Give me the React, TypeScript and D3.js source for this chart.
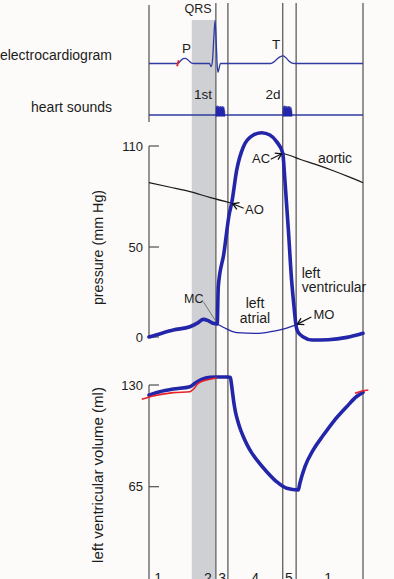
import React from 'react';
import * as d3 from 'd3';

const W = 394;
const H = 579;

// ---- time axis (ms over one cardiac cycle) ----
const phaseBoundaries = [0, 250, 295, 500, 550, 800];
const qrsBand = [160, 247];
const phaseLabels = ['1', '2', '3', '4', '5', '1'];
const phaseLabelTimes = [34, 220, 273, 397, 523, 670];

// ---- electrocardiogram (mV, arbitrary) ----
const ecgTimes = [0, 106, 112, 120, 128, 136, 144, 152, 160, 168, 226, 232, 237, 242, 247, 251, 255, 258, 262, 267, 455, 467, 480, 491, 501, 511, 522, 535, 545, 800];
const ecgValues = [0, 0, 0.02, 0.08, 0.12, 0.13, 0.1, 0.05, 0.01, 0, 0, -0.08, 0.05, 0.6, 1.08, 0.6, -0.05, -0.22, -0.12, 0, 0, 0.04, 0.12, 0.17, 0.19, 0.15, 0.07, 0.01, 0, 0];
const ecgMarkTimes = [105, 111];
const ecgMarkValues = [-0.07, 0.08];

// ---- heart sounds (amplitude envelope) ----
const sound1Times = [250, 250.6, 252, 254, 256, 258, 260, 262, 264, 266, 268, 270, 272, 274, 276, 278, 280, 282, 283.4, 284];
const sound1Values = [0, 0.85, 1, 0.8, 1.05, 0.8, 1, 0.75, 0.95, 0.8, 1, 0.8, 0.95, 0.75, 1, 0.8, 0.9, 0.6, 0.45, 0];
const sound2Times = [501, 501.6, 503, 505, 507, 509, 511, 513, 515, 517, 519, 521, 523, 525, 527, 529, 531, 533, 534.4, 535];
const sound2Values = [0, 0.8, 1, 0.8, 1.05, 0.75, 1, 0.8, 1, 0.75, 0.95, 0.8, 1, 0.8, 0.95, 0.7, 0.85, 0.6, 0.4, 0];

// ---- pressures (mm Hg) ----
const pressureTicks = [0, 50, 110];
const ventTimes = [0, 45, 91, 153, 184, 203, 221, 240, 255, 259, 280, 300, 309, 328, 353, 390, 421, 452, 477, 500, 508, 521, 533, 544, 549, 556, 577, 610, 670, 740, 800];
const ventValues = [0, 2, 3.9, 5.7, 8, 9.8, 9.1, 7.6, 7.2, 28, 46.5, 69.6, 76, 95.8, 109.6, 116.5, 117.9, 116.5, 112.6, 105.7, 89.8, 60.1, 31.7, 14, 7, 3, 0, -1.7, -1.5, -0.2, 2.1];
const atrialTimes = [255, 290, 329, 404, 450, 490, 549];
const atrialValues = [7.2, 4.5, 2.4, 2, 2.8, 3.9, 6.7];
const aorticBeforeTimes = [0, 80, 153, 230, 309];
const aorticBeforeValues = [88.2, 85.5, 82.9, 79.3, 76];
const aorticAfterTimes = [500, 530, 564, 620, 689, 750, 800];
const aorticAfterValues = [105.7, 104.2, 102.1, 99.2, 95.3, 91.5, 88.2];

// ---- left ventricular volume (ml) ----
const volumeTicks = [65, 130];
const volumeTimes = [0, 41, 91, 153, 172, 197, 228, 253, 296, 304, 308, 312, 317, 323, 331, 340, 352, 365, 384, 403, 440, 477, 515, 558, 564, 583, 614, 652, 689, 739, 775, 800];
const volumeValues = [123.5, 125.7, 127.4, 128.9, 131.1, 133.6, 134.9, 135.1, 135.1, 134.8, 131, 125.5, 119, 113, 107.5, 102.5, 97.2, 92.4, 86.6, 82.1, 74.6, 68.2, 64, 62.9, 67.2, 77.8, 88.5, 98, 106.5, 116.1, 122.5, 125.3];
const redTraceATimes = [-27, 16, 91, 153, 160, 166, 184, 216, 253];
const redTraceAValues = [120.9, 123, 125.1, 125.7, 126.5, 127.3, 131.1, 133.2, 134.5];
const redTraceBTimes = [770, 800, 820];
const redTraceBValues = [124.7, 126.3, 126.8];

// ---- event points ----
const events = [
  { name: 'AO', t: 309, p: 76 },
  { name: 'AC', t: 500, p: 105.7 },
  { name: 'MC', t: 255, p: 7.2 },
  { name: 'MO', t: 549, p: 6.7 },
];

type Pt = { t: number; v: number };
const zip = (ts: number[], vs: number[]): Pt[] => ts.map((t, i) => ({ t, v: vs[i] }));

const FONT = '"Liberation Sans", Arial, Helvetica, sans-serif';
const THICK = '#2326a8';
const THIN = '#2f3b9e';
const LINE = '#505050';
const TXT = '#1c1c1c';

export default function App() {
  const x = d3.scaleLinear().domain([0, 800]).range([149, 363]);
  const yEcg = d3.scaleLinear().domain([0, 1]).range([63.5, 23.5]);
  const ySound = d3.scaleLinear().domain([0, 1]).range([115, 106]);
  const yP = d3.scaleLinear().domain([0, 50, 110]).range([337, 247, 146]);
  const yV = d3.scaleLinear().domain([65, 130]).range([486.7, 385]);

  const lineOf = (ys: d3.ScaleLinear<number, number>, curve: d3.CurveFactory = d3.curveMonotoneX) =>
    d3.line<Pt>().x(d => x(d.t)).y(d => ys(d.v)).curve(curve);

  const ecgPath = lineOf(yEcg)(zip(ecgTimes, ecgValues)) || '';
  const ecgMark = lineOf(yEcg, d3.curveLinear)(zip(ecgMarkTimes, ecgMarkValues)) || '';
  const soundArea = d3.area<Pt>().x(d => x(d.t)).y0(ySound(-0.15)).y1(d => ySound(d.v));
  const s1 = soundArea(zip(sound1Times, sound1Values)) || '';
  const s2 = soundArea(zip(sound2Times, sound2Values)) || '';

  const ventPath = lineOf(yP)(zip(ventTimes, ventValues)) || '';
  const atrialPath = lineOf(yP)(zip(atrialTimes, atrialValues)) || '';
  const aortA = lineOf(yP)(zip(aorticBeforeTimes, aorticBeforeValues)) || '';
  const aortB = lineOf(yP)(zip(aorticAfterTimes, aorticAfterValues)) || '';

  const volPath = lineOf(yV)(zip(volumeTimes, volumeValues)) || '';
  const redA = lineOf(yV)(zip(redTraceATimes, redTraceAValues)) || '';
  const redB = lineOf(yV)(zip(redTraceBTimes, redTraceBValues)) || '';

  const ev = (n: string) => {
    const e = events.find(d => d.name === n)!;
    return [x(e.t), yP(e.p)];
  };
  const [aoX, aoY] = ev('AO');
  const [acX, acY] = ev('AC');
  const [mcX, mcY] = ev('MC');
  const [moX, moY] = ev('MO');

  const x0 = x(0);

  return (
    <svg width={W} height={H} style={{ position: 'absolute', left: 0, top: 0, background: '#fcfbf9' }} fontFamily={FONT}>
      <defs>
        <marker id="arr" viewBox="-8 -5 10 10" refX={0} refY={0} markerWidth={10} markerHeight={10} orient="auto" markerUnits="userSpaceOnUse">
          <path d="M-6,-3.6L0,0L-6,3.6" fill="none" stroke="#111" strokeWidth={1.3} />
        </marker>
      </defs>
      <rect x={0} y={0} width={W} height={H} fill="#fcfbf9" />
      {/* QRS shaded band */}
      <rect x={x(qrsBand[0])} y={20} width={x(qrsBand[1]) - x(qrsBand[0])} height={H - 20} fill="#cfd0d4" />

      {/* phase boundary lines */}
      {phaseBoundaries.slice(1).map((t, i) => (
        <line key={i} x1={x(t)} x2={x(t)} y1={3} y2={H} stroke={LINE} strokeWidth={1.2} />
      ))}
      {/* left boundary, segmented */}
      <line x1={x0} x2={x0} y1={5} y2={122} stroke={LINE} strokeWidth={1.2} />
      <line x1={x0} x2={x0} y1={yP(110)} y2={yP(0)} stroke={LINE} strokeWidth={1.2} />
      <line x1={x0} x2={x0} y1={yV(130)} y2={H} stroke={LINE} strokeWidth={1.2} />

      {/* ticks */}
      {pressureTicks.map(v => (
        <g key={'p' + v}>
          <line x1={x0} x2={x0 + 10} y1={yP(v)} y2={yP(v)} stroke={LINE} strokeWidth={1.2} />
          <text x={x0 - 6} y={yP(v)} dy="0.35em" textAnchor="end" fontSize={13} fill={TXT}>{v}</text>
        </g>
      ))}
      {volumeTicks.map(v => (
        <g key={'v' + v}>
          <line x1={x0} x2={x0 + 10} y1={yV(v)} y2={yV(v)} stroke={LINE} strokeWidth={1.2} />
          <text x={x0 - 6} y={yV(v)} dy="0.35em" textAnchor="end" fontSize={13} fill={TXT}>{v}</text>
        </g>
      ))}

      {/* left labels */}
      <text x={112} y={60} textAnchor="end" fontSize={14} fill={TXT}>electrocardiogram</text>
      <text x={112} y={112} textAnchor="end" fontSize={14} fill={TXT}>heart sounds</text>
      <text transform={`translate(103,247.5) rotate(-90)`} textAnchor="middle" fontSize={14.3} fill={TXT}>pressure (mm Hg)</text>
      <text transform={`translate(103,475) rotate(-90)`} textAnchor="middle" fontSize={15} fill={TXT}>left ventricular volume (ml)</text>

      {/* ECG */}
      <path d={ecgPath} fill="none" stroke={THIN} strokeWidth={1.3} />
      <path d={ecgMark} fill="none" stroke="#e8212a" strokeWidth={1.8} />
      <text x={198} y={13} textAnchor="middle" fontSize={12.5} fill={TXT}>QRS</text>
      <text x={186.5} y={53} textAnchor="middle" fontSize={13.5} fill={TXT}>P</text>
      <text x={276} y={48.5} textAnchor="middle" fontSize={13.5} fill={TXT}>T</text>

      {/* heart sounds */}
      <line x1={x0} x2={x(800)} y1={ySound(0)} y2={ySound(0)} stroke={THIN} strokeWidth={1.3} />
      <path d={s1} fill={THICK} stroke={THICK} strokeWidth={0.5} />
      <path d={s2} fill={THICK} stroke={THICK} strokeWidth={0.5} />
      <text x={203} y={99} textAnchor="middle" fontSize={13.5} fill={TXT}>1st</text>
      <text x={273} y={99} textAnchor="middle" fontSize={13.5} fill={TXT}>2d</text>

      {/* pressures */}
      <path d={aortA} fill="none" stroke="#1a1a1a" strokeWidth={1.2} />
      <path d={aortB} fill="none" stroke="#1a1a1a" strokeWidth={1.2} />
      <path d={atrialPath} fill="none" stroke={THICK} strokeWidth={1.3} />
      <path d={ventPath} fill="none" stroke={THICK} strokeWidth={3.6} strokeLinejoin="round" strokeLinecap="round" />

      {/* annotations */}
      <line x1={aoX + 12} y1={aoY + 5} x2={aoX + 1} y2={aoY + 0.5} stroke="#111" strokeWidth={1.2} markerEnd="url(#arr)" />
      <text x={245} y={213.5} fontSize={13} fill={TXT}>AO</text>
      <line x1={acX - 12} y1={acY + 6} x2={acX - 1} y2={acY + 0.5} stroke="#111" strokeWidth={1.2} markerEnd="url(#arr)" />
      <text x={261} y={162.5} textAnchor="middle" fontSize={13} fill={TXT}>AC</text>
      <text x={335} y={163} textAnchor="middle" fontSize={14} fill={TXT}>aortic</text>
      <line x1={203.5} y1={302} x2={mcX - 1.5} y2={mcY - 3} stroke="#6a6a6a" strokeWidth={0.9} />
      <text x={193.7} y={302.7} textAnchor="middle" fontSize={12.5} fill={TXT}>MC</text>
      <line x1={moX + 15.5} y1={moY - 8} x2={moX + 1.5} y2={moY - 0.8} stroke="#111" strokeWidth={1.2} markerEnd="url(#arr)" />
      <text x={313.5} y={318.5} fontSize={13} fill={TXT}>MO</text>
      <text x={255} y={308.3} textAnchor="middle" fontSize={14} fill={TXT}>left</text>
      <text x={255} y={323.3} textAnchor="middle" fontSize={14} fill={TXT}>atrial</text>
      <text x={301.7} y={277.5} fontSize={14} fill={TXT}>left</text>
      <text x={301.7} y={292} fontSize={14} fill={TXT}>ventricular</text>

      {/* volume */}
      <path d={volPath} fill="none" stroke={THICK} strokeWidth={3.6} strokeLinejoin="round" strokeLinecap="round" />
      <path d={redA} fill="none" stroke="#e8212a" strokeWidth={1.6} />
      <path d={redB} fill="none" stroke="#e8212a" strokeWidth={1.6} />

      {/* phase labels */}
      {phaseLabels.map((l, i) => (
        <text key={i} x={x(phaseLabelTimes[i])} y={582.5} textAnchor="middle" fontSize={14} fill={TXT}>{l}</text>
      ))}
    </svg>
  );
}
